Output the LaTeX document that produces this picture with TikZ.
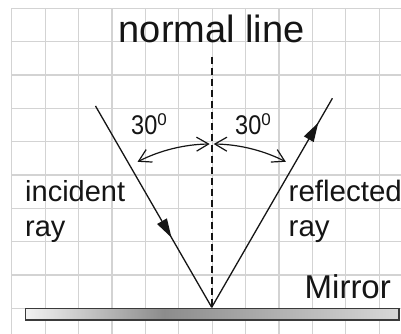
\documentclass[tikz,border=0pt]{standalone}
\usepackage{fontspec}
\setmainfont{Liberation Sans}
\usetikzlibrary{arrows.meta,decorations.markings,calc}
\definecolor{gridc}{HTML}{D3D3D3}
\definecolor{inkc}{HTML}{151515}
\definecolor{mA}{HTML}{F2F2F2}
\definecolor{mB}{HTML}{8C8C8C}
\definecolor{mC}{HTML}{D8D8D8}
\definecolor{mborder}{HTML}{3A3A3A}
\pgfdeclarehorizontalshading{mirrorsh}{100bp}{color(0bp)=(mA); color(25bp)=(mA); color(43.5bp)=(mB); color(75bp)=(mC); color(100bp)=(mC)}
\tikzset{
  gridline/.style={draw=gridc, line width=1.2pt},
  normalline/.style={draw=inkc, line width=2pt, dash pattern=on 7.5pt off 3.5pt},
  raypath/.style={draw=inkc, line width=1.3pt},
  midarrow/.style={decoration={markings, mark=at position #1 with {\arrow{Triangle[length=19pt,width=11pt]}}}, postaction={decorate}},
  anglearc/.style={draw=inkc, line width=1.2pt, {Straight Barb[length=12pt,width=14pt,line width=1.2pt]}-{Straight Barb[length=12pt,width=14pt,line width=1.2pt]}},
  lbl/.style={inner sep=0pt, text=inkc, anchor=base west},
  mirrorbox/.style={draw=mborder, line width=1.3pt, shading=mirrorsh, inner sep=0pt, minimum width=373.3pt, minimum height=11.7pt}
}
\begin{document}
\begin{tikzpicture}[x=1pt,y=1pt]
\useasboundingbox (0,0) rectangle (401,334);
\fill[white] (0,0) rectangle (401,334);
\begin{scope}
  \clip (0,0) rectangle (401,334);
  \foreach \k in {0,...,11} \draw[gridline] ({11.7+33.4*\k},0) -- ({11.7+33.4*\k},325.7);
  \foreach \k in {0,...,9} \draw[gridline] (11.7,{325.7-33.33*\k}) -- (401,{325.7-33.33*\k});
\end{scope}

\coordinate (V) at (211.7,26.7);
\coordinate (I) at (95.5,228);
\coordinate (R) at (332.4,235.7);
\coordinate (N) at (211.7,277);

\node[mirrorbox] (mirror) at (212.35,19.85) {};

\draw[normalline] (N) -- (V);
\draw[raypath, midarrow=0.654] (I) -- (V);
\draw[raypath, midarrow=0.883] (V) -- (R);

\coordinate (A1) at ($(V)+(117:163.3)$);
\coordinate (A2) at ($(V)+(89.3:163.3)$);
\draw[anglearc] (A1) arc[start angle=117, end angle=90.7, radius=163.3];
\draw[anglearc] (A2) arc[start angle=89.3, end angle=63, radius=163.3];

\node[lbl, anchor=base, font=\fontsize{38}{40}\selectfont] (normaltxt) at (211.7,291) {normal line};
\node[lbl, font=\fontsize{27}{29}\selectfont] (ang1) at (131,199) {\scalebox{0.87}[1]{30}\raisebox{9.7pt}{\fontsize{17}{17}\selectfont 0}};
\node[lbl, font=\fontsize{27}{29}\selectfont] (ang2) at (235,199) {\scalebox{0.87}[1]{30}\raisebox{9.7pt}{\fontsize{17}{17}\selectfont 0}};
\node[lbl, font=\fontsize{29}{31}\selectfont] (inc) at (25,132.7) {incident};
\node[lbl, font=\fontsize{29}{31}\selectfont] (ray1) at (25,97.3) {ray};
\node[lbl, font=\fontsize{29.5}{31}\selectfont] (refl) at (288.5,132.7) {reflected};
\node[lbl, font=\fontsize{29.5}{31}\selectfont] (ray2) at (288.5,97.3) {ray};
\node[lbl, font=\fontsize{33}{35}\selectfont] (mirrortxt) at (304.5,35) {Mirror};
\end{tikzpicture}
\end{document}
